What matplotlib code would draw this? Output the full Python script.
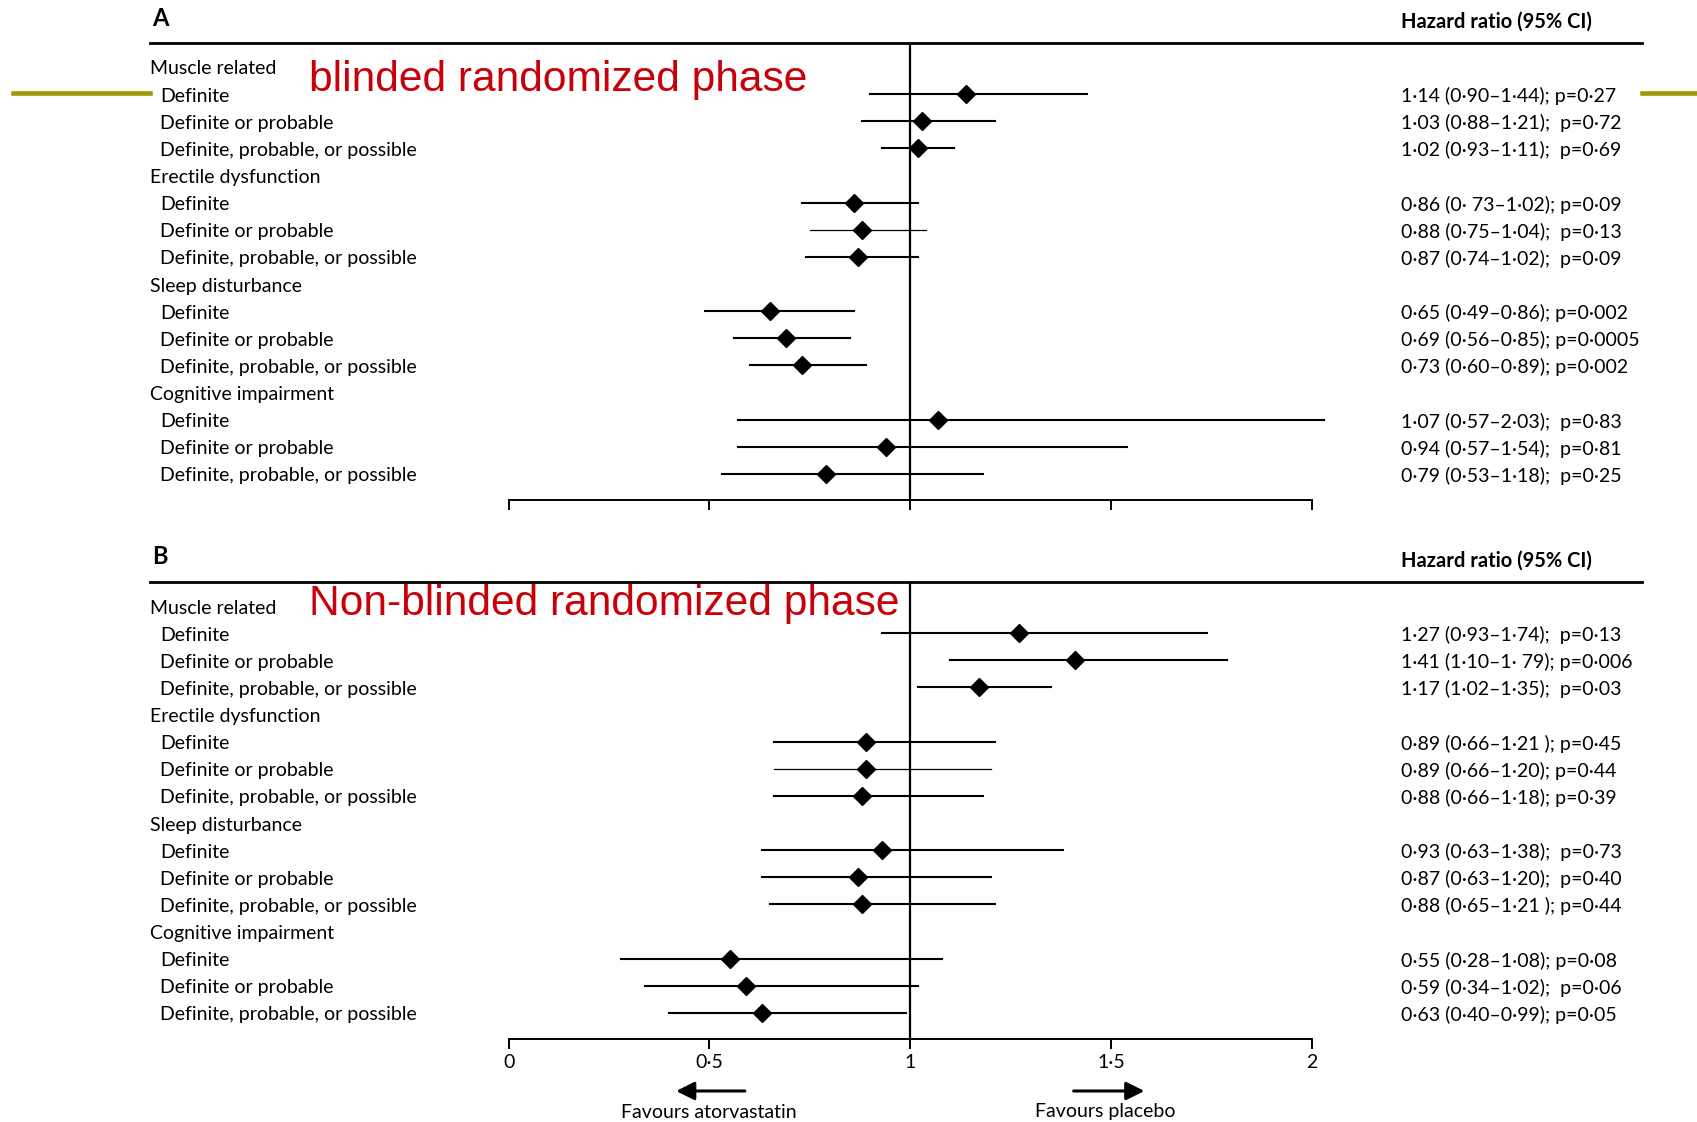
import matplotlib.pyplot as plt
from matplotlib.lines import Line2D
from matplotlib.transforms import blended_transform_factory, offset_copy

W, H = 1697, 1122

groups = ["Muscle related", "Erectile dysfunction", "Sleep disturbance", "Cognitive impairment"]
levels = ["Definite", "Definite or probable", "Definite, probable, or possible"]

a_hr = [1.14, 1.03, 1.02, 0.86, 0.88, 0.87, 0.65, 0.69, 0.73, 1.07, 0.94, 0.79]
a_lo = [0.90, 0.88, 0.93, 0.73, 0.75, 0.74, 0.49, 0.56, 0.60, 0.57, 0.57, 0.53]
a_hi = [1.44, 1.21, 1.11, 1.02, 1.04, 1.02, 0.86, 0.85, 0.89, 2.03, 1.54, 1.18]
a_txt = ["1·14 (0·90–1·44); p=0·27", "1·03 (0·88–1·21);  p=0·72", "1·02 (0·93–1·11);  p=0·69",
         "0·86 (0· 73–1·02); p=0·09", "0·88 (0·75–1·04);  p=0·13", "0·87 (0·74–1·02);  p=0·09",
         "0·65 (0·49–0·86); p=0·002", "0·69 (0·56–0·85); p=0·0005", "0·73 (0·60–0·89); p=0·002",
         "1·07 (0·57–2·03);  p=0·83", "0·94 (0·57–1·54);  p=0·81", "0·79 (0·53–1·18);  p=0·25"]

b_hr = [1.27, 1.41, 1.17, 0.89, 0.89, 0.88, 0.93, 0.87, 0.88, 0.55, 0.59, 0.63]
b_lo = [0.93, 1.10, 1.02, 0.66, 0.66, 0.66, 0.63, 0.63, 0.65, 0.28, 0.34, 0.40]
b_hi = [1.74, 1.79, 1.35, 1.21, 1.20, 1.18, 1.38, 1.20, 1.21, 1.08, 1.02, 0.99]
b_txt = ["1·27 (0·93–1·74);  p=0·13", "1·41 (1·10–1· 79); p=0·006", "1·17 (1·02–1·35);  p=0·03",
         "0·89 (0·66–1·21 ); p=0·45", "0·89 (0·66–1·20); p=0·44", "0·88 (0·66–1·18); p=0·39",
         "0·93 (0·63–1·38);  p=0·73", "0·87 (0·63–1·20);  p=0·40", "0·88 (0·65–1·21 ); p=0·44",
         "0·55 (0·28–1·08); p=0·08", "0·59 (0·34–1·02);  p=0·06", "0·63 (0·40–0·99); p=0·05"]

xticks = [0, 0.5, 1, 1.5, 2]
xticklabels = ["0", "0·5", "1", "1·5", "2"]

FONT = "Lato"
FS = 14
RED = "#c8000a"
OLIVE = "#9c9a00"


def fx(px):
	return px / W


def fy(py):
	return 1 - py / H


def panel(fig, top_px, letter, title, title_dy, hr, lo, hi, txt, show_labels):
	row0 = top_px + 24        # first row (group header) centre
	step = 27.13
	ax_top = top_px
	ax_bot = row0 + 15.96 * step
	ax = fig.add_axes([fx(508.7), fy(ax_bot), fx(1311.8) - fx(508.7), fy(ax_top) - fy(ax_bot)])
	ax.set_xlim(0, 2)
	ax.set_ylim(15.96, -(row0 - top_px) / step)
	for s in ["top", "left", "right"]:
		ax.spines[s].set_visible(False)
	ax.spines["bottom"].set_linewidth(1.4)
	ax.set_yticks([])
	ax.set_xticks(xticks)
	ax.tick_params(axis="x", direction="out", length=7, width=1.4, pad=4)
	if show_labels:
		ax.set_xticklabels(xticklabels, fontsize=FS, family=FONT)
	else:
		ax.set_xticklabels([])
	ax.axvline(1, color="black", lw=1.6, zorder=1)

	tr = blended_transform_factory(fig.transFigure, ax.transData)
	tr = offset_copy(tr, fig=fig, y=-2, units="dots")
	k = 0
	for g, name in enumerate(groups):
		r = 4 * g
		ax.text(fx(150), r, name, transform=tr, fontsize=FS, family=FONT,
				va="center", ha="left")
		for j, lev in enumerate(levels):
			rr = r + 1 + j
			ax.text(fx(160), rr, lev, transform=tr, fontsize=FS, family=FONT,
					va="center", ha="left")
			lw = 0.9 if (g == 1 and j == 1) else 1.5
			ax.plot([lo[k], hi[k]], [rr, rr], color="black", lw=lw, clip_on=False, zorder=2)
			ax.plot(hr[k], rr, marker="D", ms=9, color="black", clip_on=False, zorder=3)
			ax.text(fx(1401), rr, txt[k], transform=tr, fontsize=FS, family=FONT,
					va="center", ha="left")
			k += 1

	# header rule, letter and column title
	fig.add_artist(Line2D([fx(150), fx(1642)], [fy(top_px), fy(top_px)], color="black", lw=2))
	fig.text(fx(152), fy(top_px - 25), letter, fontsize=17, weight="bold", family=FONT,
			 va="center", ha="left")
	fig.text(fx(1401), fy(top_px - 21), "Hazard ratio (95% CI)", fontsize=14.5, weight="bold",
			 family=FONT, va="center", ha="left")
	fig.text(fx(309), fy(row0 + title_dy), title, fontsize=30.6, color=RED, family="Liberation Sans",
			 va="center", ha="left")
	return ax


def main():
	fig = plt.figure(figsize=(W / 100, H / 100), dpi=100)
	panel(fig, 43, "A", "blinded randomized phase", 12.5, a_hr, a_lo, a_hi, a_txt, False)
	ax = panel(fig, 582, "B", "Non-blinded randomized phase", -2, b_hr, b_lo, b_hi, b_txt, True)

	# olive marker lines at the sides
	fig.add_artist(Line2D([fx(13), fx(150)], [fy(93), fy(93)], color=OLIVE, lw=3.3))
	fig.add_artist(Line2D([fx(1642), fx(1697)], [fy(93), fy(93)], color=OLIVE, lw=3.3))

	# favours arrows
	tr = blended_transform_factory(ax.transData, fig.transFigure)
	style = "-|>,head_length=1.1,head_width=0.55"
	ax.annotate("", xy=(0.41, fy(1091)), xytext=(0.595, fy(1091)), xycoords=tr, textcoords=tr,
				arrowprops=dict(arrowstyle=style, lw=2.2, color="black"))
	ax.annotate("", xy=(1.59, fy(1091)), xytext=(1.40, fy(1091)), xycoords=tr, textcoords=tr,
				arrowprops=dict(arrowstyle=style, lw=2.2, color="black"))
	fig.text(fx(709), fy(1112), "Favours atorvastatin", fontsize=14, family=FONT, ha="center", va="center")
	fig.text(fx(1105), fy(1112), "Favours placebo", fontsize=14, family=FONT, ha="center", va="center")

	fig.savefig("out.png", dpi=100)


main()
